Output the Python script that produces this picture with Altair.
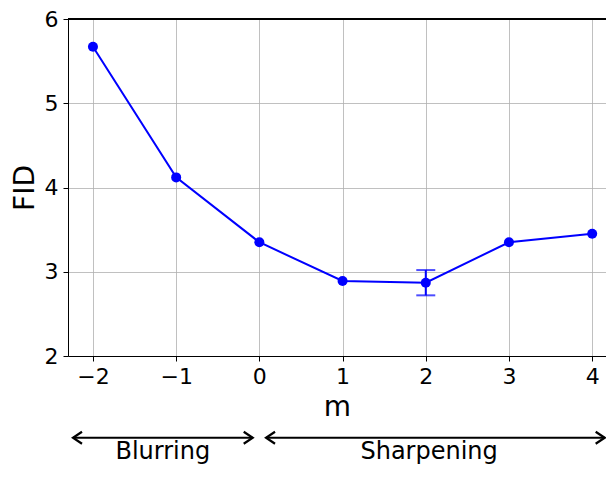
import altair as alt
import pandas as pd

# data
m_vals = [-2, -1, 0, 1, 2, 3, 4]
fid_vals = [5.67, 4.12, 3.35, 2.89, 2.87, 3.35, 3.45]
err_m = [2]
err_lo = [2.72]
err_hi = [3.02]

ann_labels = ["Blurring", "Sharpening"]
arrow_start = [-2.24, 0.08]
arrow_end = [-0.08, 4.15]
label_x = [-1.16, 2.04]
arrow_level = 1.03
label_level = 0.78

df = pd.DataFrame({"m": m_vals, "FID": fid_vals})
df_err = pd.DataFrame({"m": err_m, "lo": err_lo, "hi": err_hi})
df_ann = pd.DataFrame({"label": ann_labels, "x0": arrow_start, "x1": arrow_end,
                       "lx": label_x, "ay": [arrow_level] * 2, "ly": [label_level] * 2})

FONT = "DejaVu Sans"
BLUE = "#0000ff"
xs = alt.Scale(domain=[-2.3, 4.166], nice=False, zero=False)
ys = alt.Scale(domain=[2, 6], nice=False, zero=False)

x_axis = alt.Axis(values=m_vals, title="m", grid=True, format="d")
y_axis = alt.Axis(values=[2, 3, 4, 5, 6], title="FID", grid=True, format="d")

base = alt.Chart(df)
line = base.mark_line(color=BLUE, strokeWidth=2).encode(
    x=alt.X("m:Q", scale=xs, axis=x_axis),
    y=alt.Y("FID:Q", scale=ys, axis=y_axis),
)
pts = base.mark_point(filled=True, color=BLUE, size=100, opacity=1).encode(
    x=alt.X("m:Q", scale=xs), y=alt.Y("FID:Q", scale=ys)
)
ebar = alt.Chart(df_err).mark_rule(color=BLUE, strokeWidth=2).encode(
    x=alt.X("m:Q", scale=xs), y=alt.Y("lo:Q", scale=ys), y2="hi:Q"
)
cap_lo = alt.Chart(df_err).mark_tick(color=BLUE, orient="horizontal", size=19, thickness=2).encode(
    x=alt.X("m:Q", scale=xs), y=alt.Y("lo:Q", scale=ys)
)
cap_hi = alt.Chart(df_err).mark_tick(color=BLUE, orient="horizontal", size=19, thickness=2).encode(
    x=alt.X("m:Q", scale=xs), y=alt.Y("hi:Q", scale=ys)
)
top_spine = alt.Chart(df).mark_rule(color="black", strokeWidth=1).encode(y=alt.datum(6))

ann = alt.Chart(df_ann)
arrows = ann.mark_rule(color="black", strokeWidth=2, clip=False).encode(
    x=alt.X("x0:Q", scale=xs), x2="x1:Q", y=alt.Y("ay:Q", scale=ys)
)
head_l = ann.mark_point(shape="M1.5,-1L0,0L1.5,1", size=144, filled=False, color="black",
                        strokeWidth=2.2, opacity=1, clip=False).encode(
    x=alt.X("x0:Q", scale=xs), y=alt.Y("ay:Q", scale=ys)
)
head_r = ann.mark_point(shape="M-1.5,-1L0,0L-1.5,1", size=144, filled=False, color="black",
                        strokeWidth=2.2, opacity=1, clip=False).encode(
    x=alt.X("x1:Q", scale=xs), y=alt.Y("ay:Q", scale=ys)
)
texts = ann.mark_text(font=FONT, fontSize=24, color="black", baseline="alphabetic", clip=False).encode(
    x=alt.X("lx:Q", scale=xs), y=alt.Y("ly:Q", scale=ys), text="label:N"
)

chart = alt.layer(line, ebar, cap_lo, cap_hi, pts, top_spine, arrows, head_l, head_r, texts).properties(
    width=538, height=337,
    autosize=alt.AutoSizeParams(type="none"),
    padding={"left": 60, "top": 11, "right": 0, "bottom": 108},
).configure_view(stroke=None).configure_axis(
    labelFont=FONT, titleFont=FONT, labelFontSize=22, titleFontSize=28,
    titleFontWeight="normal", labelColor="black", titleColor="black",
    domainColor="black", domainWidth=1, tickColor="black", tickSize=5, tickWidth=1,
    gridColor="#b0b0b0", gridWidth=0.8, labelPadding=5,
).configure_axisX(titlePadding=6).configure_axisY(titlePadding=5)

chart.save("out.html", embed_options={"renderer": "svg", "actions": False})
